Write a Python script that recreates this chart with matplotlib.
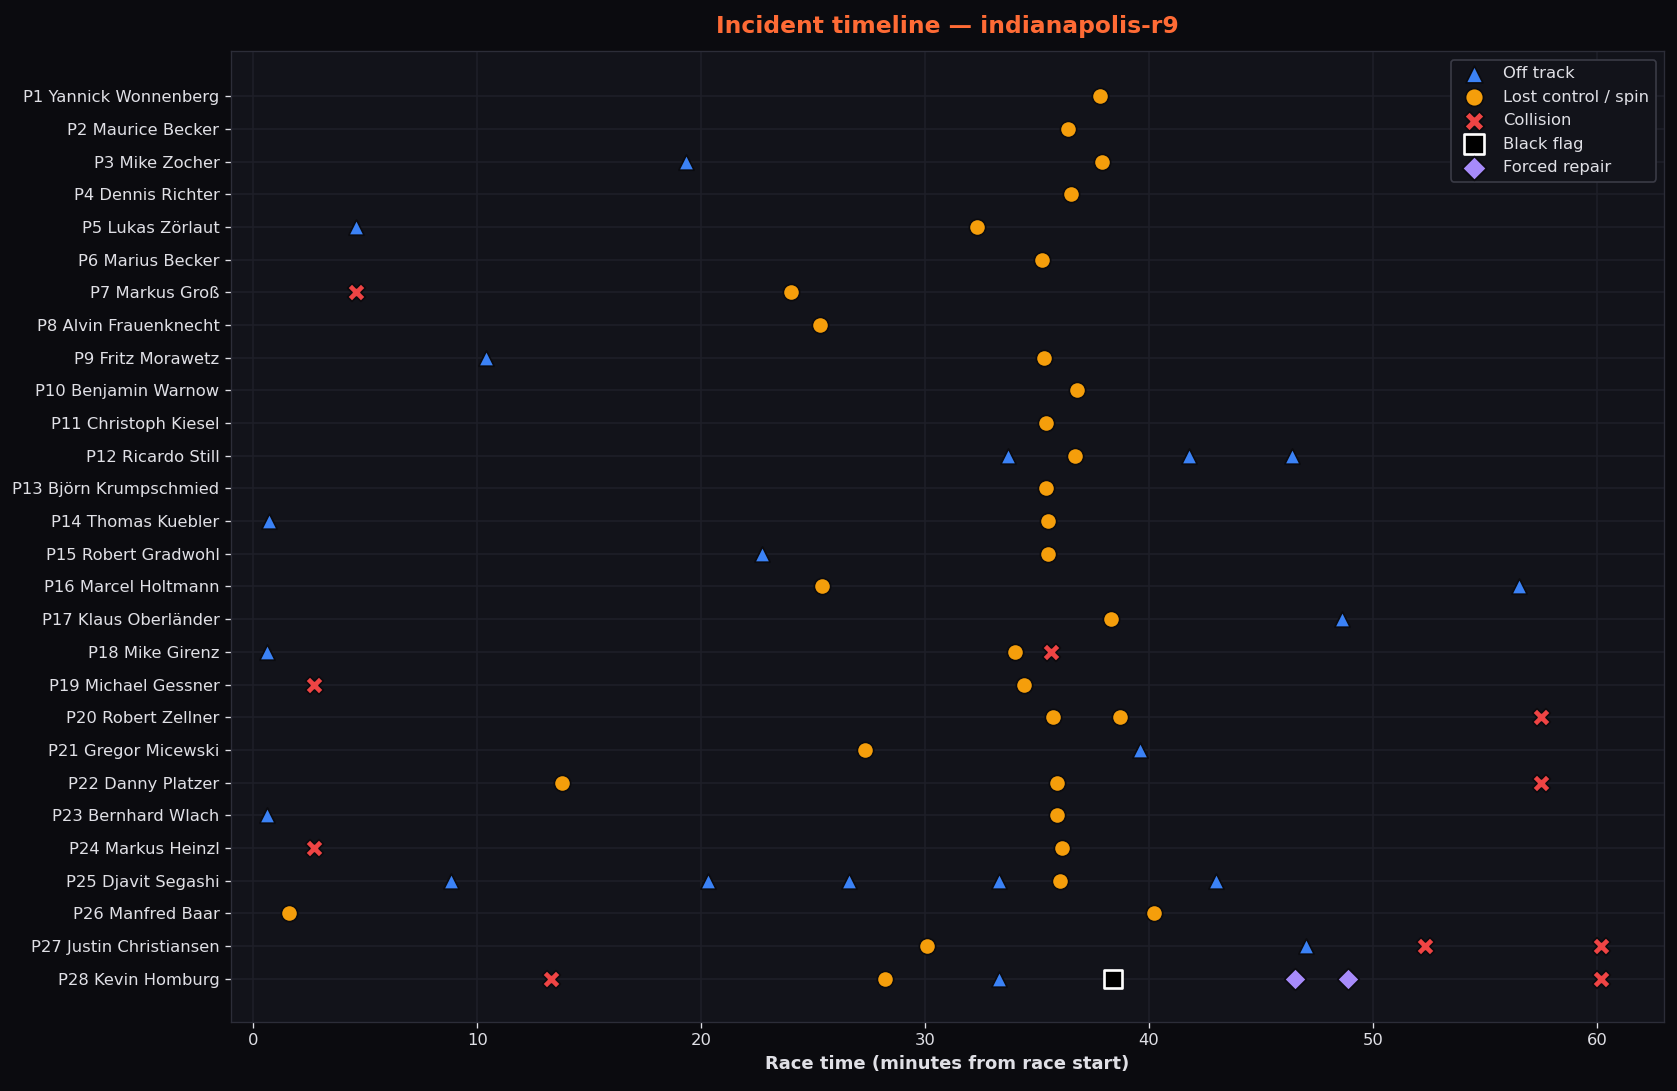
import numpy as np
import matplotlib.pyplot as plt

# drivers, top to bottom
drivers = ['P1 Yannick Wonnenberg', 'P2 Maurice Becker', 'P3 Mike Zocher', 'P4 Dennis Richter',
           'P5 Lukas Zörlaut', 'P6 Marius Becker', 'P7 Markus Groß', 'P8 Alvin Frauenknecht',
           'P9 Fritz Morawetz', 'P10 Benjamin Warnow', 'P11 Christoph Kiesel', 'P12 Ricardo Still',
           'P13 Björn Krumpschmied', 'P14 Thomas Kuebler', 'P15 Robert Gradwohl', 'P16 Marcel Holtmann',
           'P17 Klaus Oberländer', 'P18 Mike Girenz', 'P19 Michael Gessner', 'P20 Robert Zellner',
           'P21 Gregor Micewski', 'P22 Danny Platzer', 'P23 Bernhard Wlach', 'P24 Markus Heinzl',
           'P25 Djavit Segashi', 'P26 Manfred Baar', 'P27 Justin Christiansen', 'P28 Kevin Homburg']

# incidents: (driver index, minute)
off_track_drv = [2, 4, 8, 11, 11, 11, 13, 14, 15, 16, 17, 20, 22, 24, 24, 24, 24, 24, 26, 27]
off_track_min = [19.3, 4.6, 10.4, 33.7, 41.8, 46.4, 0.7, 22.7, 56.5, 48.6, 0.6, 39.6, 0.6,
                 8.8, 20.3, 26.6, 33.3, 43.0, 47.0, 33.3]

spin_drv = [0, 1, 2, 3, 4, 5, 6, 7, 8, 9, 10, 11, 12, 13, 14, 15, 16, 17, 18, 19, 19, 20,
            21, 21, 22, 23, 24, 25, 25, 26, 27]
spin_min = [37.8, 36.4, 37.9, 36.5, 32.3, 35.2, 24.0, 25.3, 35.3, 36.8, 35.4, 36.7, 35.4,
            35.5, 35.5, 25.4, 38.3, 34.0, 34.4, 35.7, 38.7, 27.3, 13.8, 35.9, 35.9, 36.1,
            36.0, 1.6, 40.2, 30.1, 28.2]

collision_drv = [6, 17, 18, 19, 21, 23, 26, 26, 27, 27]
collision_min = [4.6, 35.6, 2.7, 57.5, 57.5, 2.7, 52.3, 60.2, 13.3, 60.2]

black_flag_drv = [27]
black_flag_min = [38.4]

repair_drv = [27, 27]
repair_min = [46.5, 48.9]

bg = '#0b0b0f'
panel = '#12131a'
text_col = '#e0e0e6'

fig = plt.figure(figsize=(1677 / 120, 1091 / 120), dpi=120, facecolor=bg)
ax = fig.add_axes([0.1378, 0.0637, 0.8545, 0.8892], facecolor=panel)

edge = '#0b0b0f'
ax.scatter(off_track_min, off_track_drv, marker='^', s=85, color='#3b82f6',
           edgecolors=edge, linewidths=1.0, label='Off track', zorder=3)
ax.scatter(spin_min, spin_drv, marker='o', s=95, color='#f59e0b',
           edgecolors=edge, linewidths=1.0, label='Lost control / spin', zorder=3)
ax.scatter(collision_min, collision_drv, marker='X', s=115, color='#ef4444',
           edgecolors=edge, linewidths=1.0, label='Collision', zorder=3)
ax.scatter(black_flag_min, black_flag_drv, marker='s', s=110, color='black',
           edgecolors='white', linewidths=1.6, label='Black flag', zorder=3)
ax.scatter(repair_min, repair_drv, marker='D', s=85, color='#a78bfa',
           edgecolors=edge, linewidths=1.0, label='Forced repair', zorder=3)

ax.set_yticks(np.arange(len(drivers)))
ax.set_yticklabels(drivers)
ax.set_ylim(len(drivers) - 1 + 1.31, -1.37)
ax.set_xlim(-1, 63)

ax.grid(True, color='#1e1f28', linewidth=1.0)
ax.set_axisbelow(True)
for s in ax.spines.values():
    s.set_color('#2c2d38')

ax.tick_params(colors=text_col, labelsize=9.8)
ax.set_xlabel('Race time (minutes from race start)', color=text_col,
              fontsize=10.8, fontweight='bold')
ax.set_title('Incident timeline — indianapolis-r9', color='#ff6b35',
             fontsize=14, fontweight='bold', pad=11)

leg = ax.legend(loc='upper right', facecolor=panel, edgecolor='#3a3b46',
                fontsize=9.8, framealpha=1.0, borderpad=0.4, labelspacing=0.52,
                markerscale=1.1)
for t in leg.get_texts():
    t.set_color(text_col)

fig.savefig('out.png', dpi=120, facecolor=bg)
